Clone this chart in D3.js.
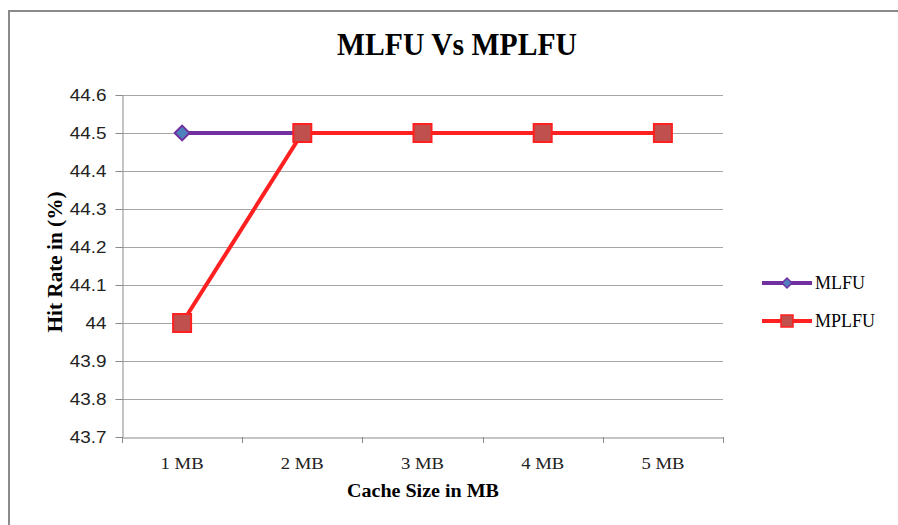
<!DOCTYPE html>
<html><head><meta charset="utf-8">
<script src="https://cdn.jsdelivr.net/npm/d3@7"></script>
<style>body{margin:0;background:#fff}svg{display:block}</style>
</head><body>
<svg id="c" width="898" height="525"></svg>
<script>
const categories = ["1 MB","2 MB","3 MB","4 MB","5 MB"];
const mlfu = [44.5, 44.5, 44.5, 44.5, 44.5];
const mplfu = [44.0, 44.5, 44.5, 44.5, 44.5];
const yTicks = [43.7,43.8,43.9,44,44.1,44.2,44.3,44.4,44.5,44.6];
const seriesNames = ["MLFU","MPLFU"];

const serif = "'Liberation Serif','Times New Roman',serif";
const svg = d3.select("#c");
const m = {l:122, r:723, t:95, b:437};
svg.append("rect").attr("x",9).attr("y",11).attr("width",1000).attr("height",1000)
  .attr("fill","#fff").attr("stroke","#8a8a8a").attr("stroke-width",2);

const x = d3.scaleBand().domain(categories).range([m.l, m.r]);
const y = d3.scaleLinear().domain([43.7,44.6]).range([m.b, m.t]);

function stretch(sel, k){
  sel.each(function(){
    const w = this.getComputedTextLength();
    d3.select(this).attr("textLength", w*k).attr("lengthAdjust","spacingAndGlyphs");
  });
}

// gridlines
svg.append("g").selectAll("line").data(yTicks.slice(1)).join("line")
  .attr("x1",m.l).attr("x2",m.r).attr("y1",d=>Math.round(y(d))+0.5).attr("y2",d=>Math.round(y(d))+0.5)
  .attr("stroke","#a6a6a6").attr("stroke-width",1);

// y axis
const ya = svg.append("g").attr("transform",`translate(${m.l+0.5},0)`)
  .call(d3.axisLeft(y).tickValues(yTicks).tickSize(7).tickSizeOuter(0).tickFormat(d=>String(+d.toFixed(1))));
ya.select(".domain").attr("stroke","#8a8a8a");
ya.selectAll(".tick line").attr("stroke","#8a8a8a");
ya.selectAll(".tick text").attr("font-family","'Liberation Sans', Arial, sans-serif")
  .attr("font-size",16).attr("fill","#222").attr("x",-16).attr("dy","0.36em");
stretch(ya.selectAll(".tick text"), 1.18);

// x axis
const xa = svg.append("g").attr("transform",`translate(0,${m.b+0.5})`)
  .call(d3.axisBottom(x).tickSize(0).tickSizeOuter(0));
xa.select(".domain").attr("stroke","#8a8a8a");
xa.selectAll(".tick text").attr("font-family",serif)
  .attr("font-size",16.5).attr("fill","#222").attr("dy",0).attr("y",31)
  .attr("textLength",43).attr("lengthAdjust","spacingAndGlyphs");
const bounds = [m.l, ...categories.map(c=>x(c)+x.bandwidth())];
svg.append("g").selectAll("line").data(bounds).join("line")
  .attr("x1",d=>Math.round(d)+0.5).attr("x2",d=>Math.round(d)+0.5).attr("y1",m.b).attr("y2",m.b+6)
  .attr("stroke","#8a8a8a");

const cx = c => x(c)+x.bandwidth()/2;
const line = d3.line().x((d,i)=>cx(categories[i])).y(d=>y(d));

// MLFU
svg.append("path").datum(mlfu).attr("d",line).attr("fill","none").attr("stroke","#7030a0").attr("stroke-width",4);
svg.append("g").selectAll("path").data(mlfu).join("path")
  .attr("transform",(d,i)=>`translate(${cx(categories[i])},${y(d)}) rotate(45)`)
  .attr("d",d3.symbol().type(d3.symbolSquare).size(110)())
  .attr("fill","#4f81bd").attr("stroke","#7030a0").attr("stroke-width",2);

// MPLFU
svg.append("path").datum(mplfu).attr("d",line).attr("fill","none").attr("stroke","#ff2121").attr("stroke-width",4);
svg.append("g").selectAll("rect").data(mplfu).join("rect")
  .attr("x",(d,i)=>cx(categories[i])-9).attr("y",d=>y(d)-9).attr("width",18).attr("height",18)
  .attr("fill","#c0504d").attr("stroke","#ff2121").attr("stroke-width",2);

// title
svg.append("text").attr("x",457).attr("y",55).attr("text-anchor","middle")
  .attr("font-family",serif).attr("font-weight","bold")
  .attr("font-size",32).attr("fill","#000")
  .attr("textLength",240).attr("lengthAdjust","spacingAndGlyphs").text("MLFU Vs MPLFU");

// axis titles
svg.append("text").attr("transform",`translate(62,262) rotate(-90)`).attr("text-anchor","middle")
  .attr("font-family",serif).attr("font-weight","bold")
  .attr("font-size",20.5).attr("fill","#000")
  .attr("textLength",141).attr("lengthAdjust","spacingAndGlyphs").text("Hit Rate in (%)");
svg.append("text").attr("x",423).attr("y",497).attr("text-anchor","middle")
  .attr("font-family",serif).attr("font-weight","bold")
  .attr("font-size",18).attr("fill","#000")
  .attr("textLength",152).attr("lengthAdjust","spacingAndGlyphs").text("Cache Size in MB");

// legend
const leg = svg.append("g");
const ly = [283, 321];
const colors = ["#7030a0","#ff2121"];
seriesNames.forEach((n,i)=>{
  leg.append("line").attr("x1",762).attr("x2",812).attr("y1",ly[i]).attr("y2",ly[i])
    .attr("stroke",colors[i]).attr("stroke-width",4);
  if(i===0){
    leg.append("path").attr("transform",`translate(787,${ly[i]}) rotate(45)`)
      .attr("d",d3.symbol().type(d3.symbolSquare).size(50)())
      .attr("fill","#4f81bd").attr("stroke","#7030a0").attr("stroke-width",1.5);
  } else {
    leg.append("rect").attr("x",781).attr("y",ly[i]-6).attr("width",12).attr("height",12)
      .attr("fill","#c0504d").attr("stroke","#ff2121").attr("stroke-width",1.5);
  }
  leg.append("text").attr("x",815).attr("y",ly[i]+6)
    .attr("font-family",serif).attr("font-size",18).attr("fill","#000").text(n);
});
</script>
</body></html>
